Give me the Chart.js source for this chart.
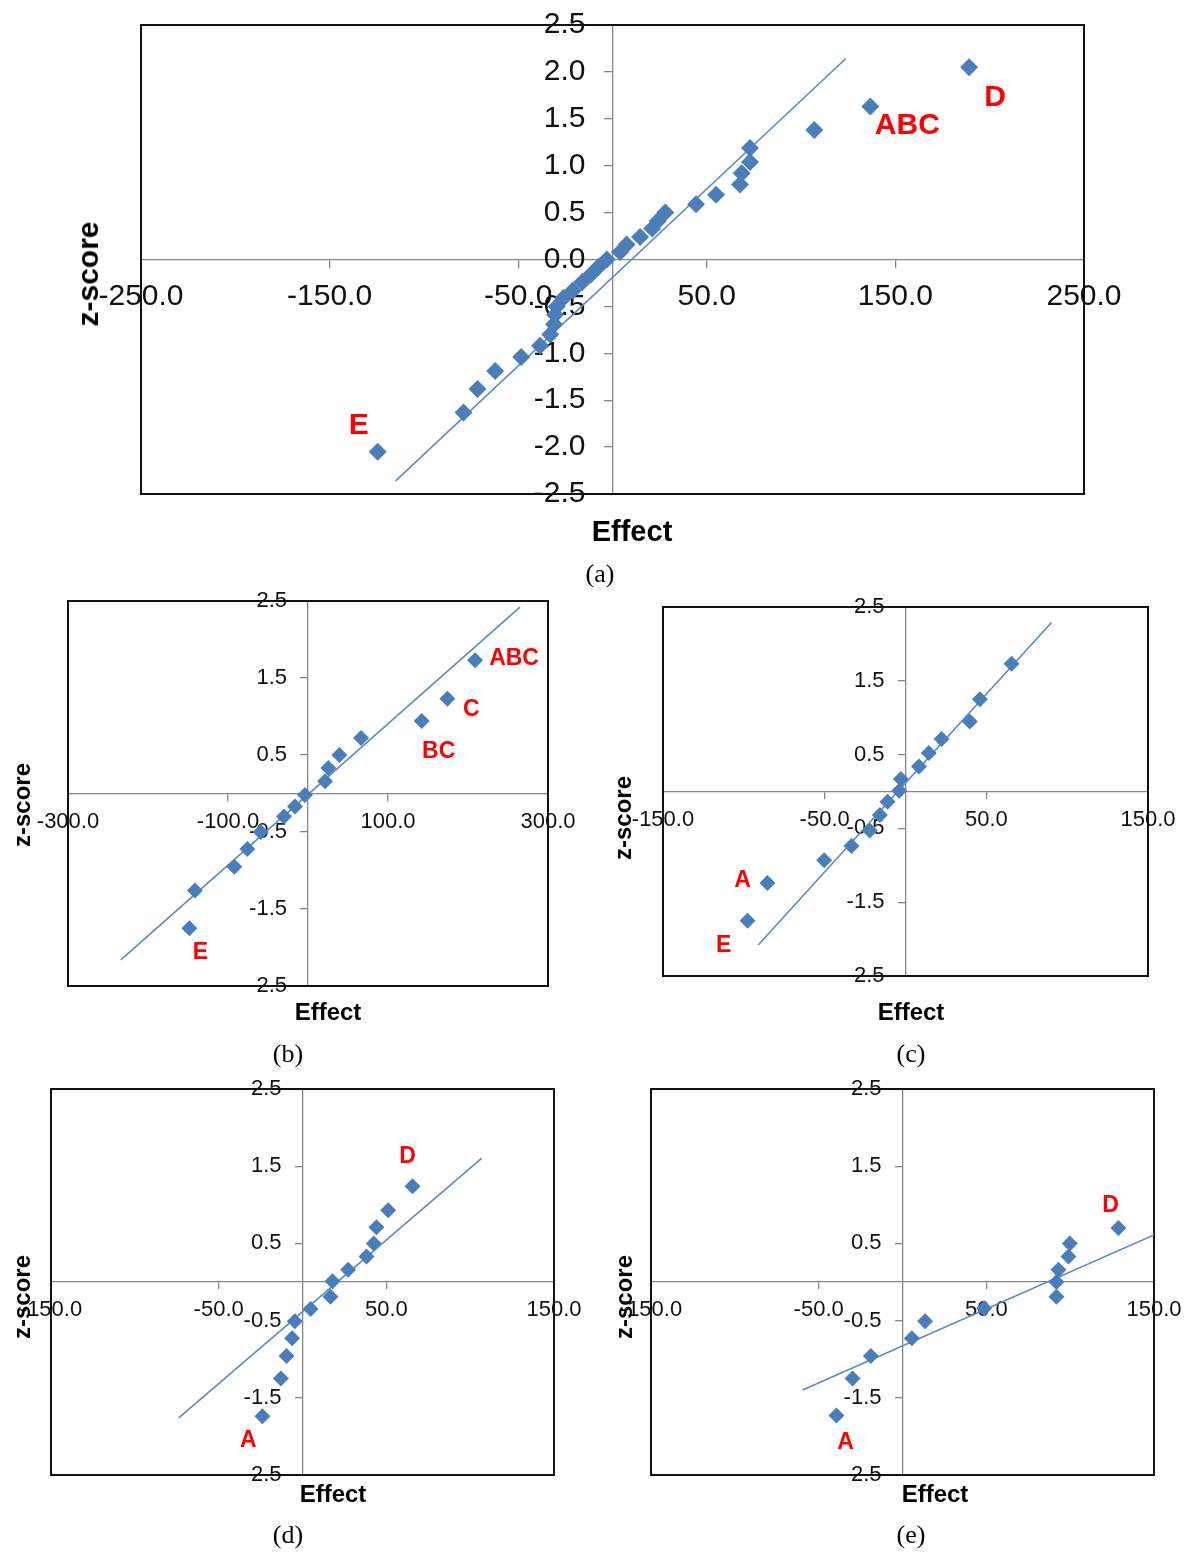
<!DOCTYPE html>
<html><head><meta charset="utf-8">
<script src="https://cdn.jsdelivr.net/npm/chart.js@4.4.1/dist/chart.umd.min.js"></script>
<style>
html,body{margin:0;padding:0;background:#fff;}
#page{position:relative;width:1194px;height:1553px;background:#fff;overflow:hidden;}
canvas{position:absolute;}
.t{position:absolute;font-family:'Liberation Sans',Arial,sans-serif;font-weight:bold;color:#000;white-space:nowrap;transform:translate(-50%,-50%);line-height:1;}
.v{transform:translate(-50%,-50%) rotate(-90deg);}
.cap{position:absolute;font-family:'Liberation Serif','Times New Roman',serif;color:#000;white-space:nowrap;transform:translate(-50%,-50%);line-height:1;}
</style></head><body><div id="page">
<canvas id="ca" width="1194" height="549" style="left:0;top:-15px"></canvas>
<canvas id="cb" width="597" height="449" style="left:0;top:569px"></canvas>
<canvas id="cc" width="597" height="433" style="left:597px;top:575px"></canvas>
<canvas id="cd" width="597" height="450" style="left:0;top:1057px"></canvas>
<canvas id="ce" width="597" height="450" style="left:597px;top:1057px"></canvas>

<div class="t v" style="left:88px;top:274px;font-size:30px">z-score</div>
<div class="t" style="left:632px;top:531px;font-size:29px">Effect</div>
<div class="cap" style="left:600px;top:574px;font-size:26px">(a)</div>

<div class="t v" style="left:22px;top:805px;font-size:24px">z-score</div>
<div class="t" style="left:328px;top:1012px;font-size:24px">Effect</div>
<div class="cap" style="left:288px;top:1054px;font-size:26px">(b)</div>

<div class="t v" style="left:623px;top:818px;font-size:24px">z-score</div>
<div class="t" style="left:911px;top:1012px;font-size:24px">Effect</div>
<div class="cap" style="left:911px;top:1054px;font-size:26px">(c)</div>

<div class="t v" style="left:22px;top:1297px;font-size:24px">z-score</div>
<div class="t" style="left:333px;top:1494px;font-size:24px">Effect</div>
<div class="cap" style="left:288px;top:1535px;font-size:26px">(d)</div>

<div class="t v" style="left:624px;top:1297px;font-size:24px">z-score</div>
<div class="t" style="left:935px;top:1494px;font-size:24px">Effect</div>
<div class="cap" style="left:911px;top:1535px;font-size:26px">(e)</div>
</div>
<script>
// ---------- data ----------
// (a)
const effectA = [-124.5, -79, -71.6, -62.2, -48.4, -38.4, -33, -31, -30.5, -29.6, -26, -21, -16, -11.5, -7.5, -3, 4, 7.5, 14.6, 21, 24, 28, 44.3, 54.9, 67.6, 68.5, 72.9, 72.9, 107, 136.7, 189.1];
const zA = [-2.05, -1.63, -1.38, -1.19, -1.04, -0.92, -0.80, -0.69, -0.59, -0.50, -0.41, -0.33, -0.24, -0.16, -0.08, 0.00, 0.08, 0.16, 0.24, 0.33, 0.41, 0.50, 0.59, 0.69, 0.80, 0.92, 1.04, 1.19, 1.38, 1.63, 2.05];
const lineEffectA = [-115, 123.6];
const lineZA = [-2.36, 2.14];
const tagTextA = ['E', 'ABC', 'D'];
const tagIndexA = [0, 29, 30];
const xTicksA = [-250, -150, -50, 50, 150, 250];
const yTicksA = [2.5, 2.0, 1.5, 1.0, 0.5, 0.0, -0.5, -1.0, -1.5, -2.0, -2.5];

// (b)
const effectB = [-148.3, -141.3, -92.1, -75.8, -59.2, -30, -16.3, -3.8, 21.3, 25.4, 39.2, 66.3, 142.1, 174.2, 208.8];
const zB = [-1.75, -1.26, -0.95, -0.72, -0.50, -0.30, -0.17, -0.02, 0.16, 0.33, 0.50, 0.72, 0.94, 1.23, 1.73];
const lineEffectB = [-234, 265];
const lineZB = [-2.16, 2.42];
const tagTextB = ['E', 'BC', 'C', 'ABC'];
const tagIndexB = [0, 12, 13, 14];
const xTicksB = [-300, -100, 100, 300];

// (c)
const effectC = [-97.7, -85.4, -50.3, -33.4, -22.1, -15.9, -11.1, -3.9, -2.9, 8.3, 14.4, 22.3, 39.8, 46, 65.6];
const zC = [-1.75, -1.24, -0.93, -0.74, -0.53, -0.32, -0.14, 0.01, 0.17, 0.34, 0.52, 0.71, 0.95, 1.25, 1.73];
const lineEffectC = [-91.1, 90.3];
const lineZC = [-2.08, 2.29];
const tagTextC = ['E', 'A'];
const tagIndexC = [0, 1];

// (d)
const effectD = [-23.9, -12.9, -9.5, -6.2, -4.6, 4.8, 16.7, 17.9, 27.2, 38.2, 42.5, 44.1, 51.1, 65.6];
const zD = [-1.74, -1.25, -0.96, -0.73, -0.51, -0.35, -0.19, 0.01, 0.16, 0.33, 0.50, 0.71, 0.93, 1.24];
const lineEffectD = [-73.8, 106.8];
const lineZD = [-1.76, 1.60];
const tagTextD = ['A', 'D'];
const tagIndexD = [0, 13];

// (e)
const effectE = [-39.4, -29.8, -18.9, 5.6, 13.5, 48.7, 91.8, 91.8, 93.0, 99.0, 99.8, 128.8];
const zE = [-1.73, -1.25, -0.96, -0.73, -0.51, -0.34, -0.19, 0.00, 0.16, 0.33, 0.50, 0.70];
const lineEffectE = [-59.6, 150];
const lineZE = [-1.40, 0.61];
const tagTextE = ['A', 'D'];
const tagIndexE = [0, 11];

const xTicksSmall = [-150, -50, 50, 150];
const yTicksSmall = [2.5, 1.5, 0.5, -0.5, -1.5, -2.5];

// ---------- plugins ----------
const framePlugin = {
  id: 'frame',
  beforeDatasetsDraw(chart) {
    const {ctx, chartArea: a} = chart;
    ctx.save();
    ctx.strokeStyle = '#111';
    ctx.lineWidth = 2;
    ctx.strokeRect(a.left, a.top, a.right - a.left, a.bottom - a.top);
    ctx.restore();
  }
};
// move y tick labels away from the centred axis line (Excel-like gap)
const yLabelGap = {
  id: 'ygap',
  beforeDraw(chart, args, opts) {
    const s = chart.scales.y;
    const items = s.getLabelItems(chart.chartArea);
    if (items && !items.__moved) {
      items.forEach(it => { it.options.translation[0] -= opts.dx; });
      items.__moved = true;
    }
  }
};
const tagPlugin = {
  id: 'tags',
  afterDatasetsDraw(chart, args, opts) {
    const meta = chart.getDatasetMeta(0);
    const ctx = chart.ctx;
    ctx.save();
    ctx.fillStyle = '#FF0000';
    ctx.font = 'bold ' + opts.size + 'px "Liberation Sans", Arial, sans-serif';
    ctx.textAlign = 'center';
    ctx.textBaseline = 'middle';
    opts.texts.forEach((t, k) => {
      const el = meta.data[opts.index[k]];
      const off = opts.offsets[k];
      ctx.fillText(t, el.x + off[0], el.y + off[1]);
    });
    ctx.restore();
  }
};

function pts(xs, ys) { return xs.map((x, i) => ({x: x, y: ys[i]})); }

function makeChart(id, cfg) {
  const tickFont = {family: "'Liberation Sans', Arial, sans-serif", size: cfg.font};
  new Chart(document.getElementById(id), {
    type: 'scatter',
    data: {
      datasets: [
        {
          data: pts(cfg.ex, cfg.z),
          pointStyle: 'rectRot',
          pointRadius: cfg.r,
          pointBackgroundColor: '#4A7EBB',
          pointBorderColor: '#4A7EBB',
          pointBorderWidth: 0,
          showLine: false
        },
        {
          data: pts(cfg.lx, cfg.lz),
          showLine: true,
          borderColor: '#5A8AC6',
          borderWidth: 1.6,
          pointRadius: 0,
          fill: false
        }
      ]
    },
    options: {
      responsive: false,
      animation: false,
      events: [],
      layout: {padding: cfg.pad},
      plugins: {
        legend: {display: false},
        tooltip: {enabled: false},
        ygap: {dx: cfg.ygap},
        tags: {texts: cfg.tagText, index: cfg.tagIndex, offsets: cfg.tagOff, size: cfg.tagSize}
      },
      scales: {
        x: {
          type: 'linear',
          min: cfg.xmin, max: cfg.xmax,
          position: {y: 0},
          afterBuildTicks: s => { s.ticks = cfg.xt.map(v => ({value: v})); },
          border: {display: true, color: '#868686', width: 1.3},
          grid: {display: true, drawOnChartArea: false, drawTicks: true, tickLength: cfg.tl, color: '#868686', lineWidth: 1.3},
          ticks: {font: tickFont, color: '#111', padding: cfg.xpad, maxRotation: 0, autoSkip: false,
                  callback: v => Number(v).toFixed(1)}
        },
        y: {
          type: 'linear',
          min: -2.5, max: 2.5,
          position: {x: 0},
          afterBuildTicks: s => { s.ticks = cfg.yt.map(v => ({value: v})); },
          border: {display: true, color: '#868686', width: 1.3},
          grid: {display: true, drawOnChartArea: false, drawTicks: true, tickLength: cfg.tl, color: '#868686', lineWidth: 1.3},
          ticks: {font: tickFont, color: '#111', padding: 4, autoSkip: false,
                  callback: v => Number(v).toFixed(1)}
        }
      }
    },
    plugins: [framePlugin, yLabelGap, tagPlugin]
  });
}

makeChart('ca', {ex: effectA, z: zA, lx: lineEffectA, lz: lineZA, tagText: tagTextA, tagIndex: tagIndexA,
  tagOff: [[-19, -26], [37, 19], [26, 31]], tagSize: 30, r: 9,
  xmin: -250, xmax: 250, xt: xTicksA, yt: yTicksA, font: 30, tl: 8, xpad: 11, ygap: 27,
  pad: {left: 141, top: 40, right: 110, bottom: 40}});

makeChart('cb', {ex: effectB, z: zB, lx: lineEffectB, lz: lineZB, tagText: tagTextB, tagIndex: tagIndexB,
  tagOff: [[11, 24], [17, 31], [24, 11], [39, -2]], tagSize: 23, r: 8,
  xmin: -300, xmax: 300, xt: xTicksB, yt: yTicksSmall, font: 22, tl: 7, xpad: 8, ygap: 21,
  pad: {left: 68, top: 32, right: 49, bottom: 32}});

makeChart('cc', {ex: effectC, z: zC, lx: lineEffectC, lz: lineZC, tagText: tagTextC, tagIndex: tagIndexC,
  tagOff: [[-24, 25], [-25, -2]], tagSize: 23, r: 8,
  xmin: -150, xmax: 150, xt: xTicksSmall, yt: yTicksSmall, font: 22, tl: 7, xpad: 8, ygap: 21,
  pad: {left: 66, top: 32, right: 46, bottom: 32}});

makeChart('cd', {ex: effectD, z: zD, lx: lineEffectD, lz: lineZD, tagText: tagTextD, tagIndex: tagIndexD,
  tagOff: [[-14, 24], [-5, -30]], tagSize: 23, r: 8,
  xmin: -150, xmax: 150, xt: xTicksSmall, yt: yTicksSmall, font: 22, tl: 7, xpad: 8, ygap: 21,
  pad: {left: 51, top: 32, right: 43, bottom: 32}});

makeChart('ce', {ex: effectE, z: zE, lx: lineEffectE, lz: lineZE, tagText: tagTextE, tagIndex: tagIndexE,
  tagOff: [[9, 27], [-8, -22]], tagSize: 23, r: 8,
  xmin: -150, xmax: 150, xt: xTicksSmall, yt: yTicksSmall, font: 22, tl: 7, xpad: 8, ygap: 21,
  pad: {left: 54, top: 32, right: 40, bottom: 32}});
</script>
</body></html>
